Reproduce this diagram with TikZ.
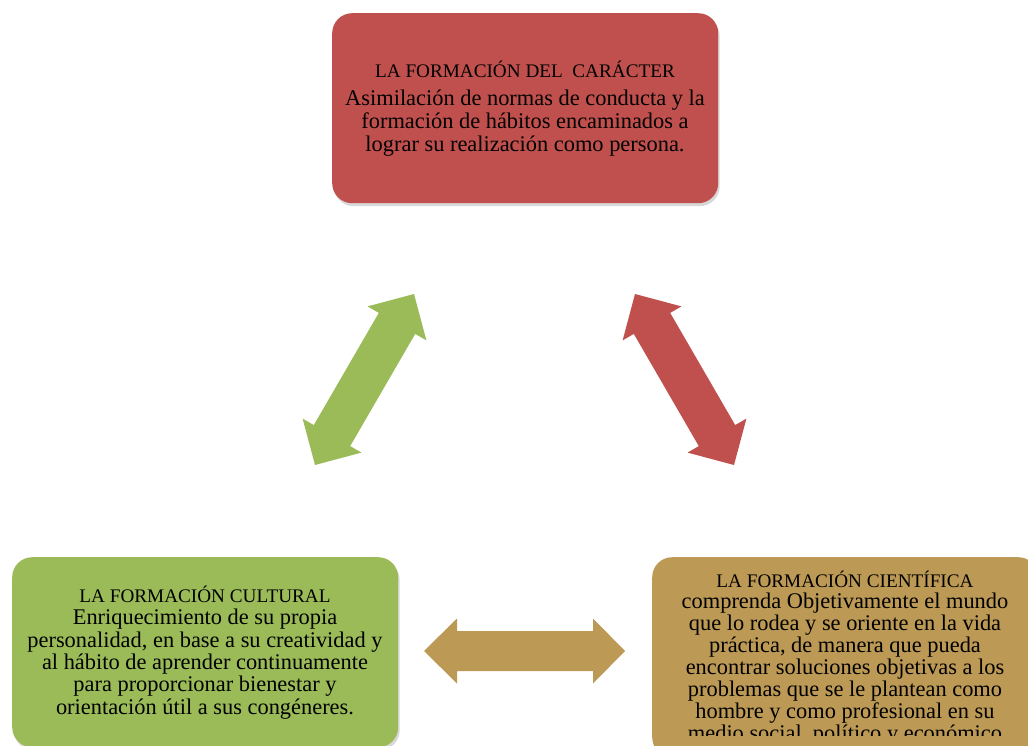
\documentclass[tikz,border=0pt]{standalone}
\usepackage{fontspec}
\setmainfont{Liberation Serif}
\usetikzlibrary{shadows}
\definecolor{cred}{HTML}{C0504D}
\definecolor{cgreen}{HTML}{9BBB59}
\definecolor{cgold}{HTML}{BC9954}
\newcommand{\boxtitle}[1]{{\fontsize{19.2}{22}\selectfont #1}}
\begin{document}
\begin{tikzpicture}[x=1pt,y=-1pt,
  box/.style={rounded corners=20pt, draw=none, minimum width=386pt, minimum height=190pt, inner sep=0pt, anchor=north west,
    drop shadow={opacity=0.3, shadow xshift=1.5pt, shadow yshift=-3pt}},
  txt/.style={align=center, inner sep=0pt, text=black, anchor=base}]
\clip (0,0) rectangle (1028,746);
\fill[white] (0,0) rectangle (1028,746);

% boxes
\node[box, fill=cred] (car) at (332,13) {};
\node[box, fill=cgreen] (cul) at (12,557) {};
\node[box, fill=cgold, minimum height=200pt] (cie) at (652,557) {};

% texts (anchor base = baseline of last line)
\node[txt, font=\fontsize{22.4}{23}\selectfont] (tcar) at (525,152)
  {\boxtitle{LA FORMACIÓN DEL\ \ CARÁCTER}\\[5.7pt]
   Asimilación de normas de conducta y la\\
   formación de hábitos encaminados a\\
   lograr su realización como persona.};
\node[txt, font=\fontsize{22.4}{22.3}\selectfont] (tcul) at (205,714)
  {\boxtitle{LA FORMACIÓN CULTURAL}\\
   Enriquecimiento de su propia\\
   personalidad, en base a su creatividad y\\
   al hábito de aprender continuamente\\
   para proporcionar bienestar y\\
   orientación útil a sus congéneres.};
\begin{scope}
\clip (652,557) rectangle (1038,735.5);
\node[txt, font=\fontsize{22.4}{21.85}\selectfont] (tcie) at (845,740)
  {\boxtitle{LA FORMACIÓN CIENTÍFICA}\\
   comprenda Objetivamente el mundo\\
   que lo rodea y se oriente en la vida\\
   práctica, de manera que pueda\\
   encontrar soluciones objetivas a los\\
   problemas que se le plantean como\\
   hombre y como profesional en su\\
   medio social, político y económico};
\end{scope}

% block arrows
\coordinate (gA) at (315,465);
\coordinate (gB) at (414,294);
\fill[cgreen] (gB) -- (426.4,340.4) -- (415.2,333.9) -- (350.2,446.1) -- (361.4,452.6)
  -- (gA) -- (302.6,418.6) -- (313.8,425.1) -- (378.8,312.9) -- (367.6,306.4) -- cycle;

\coordinate (rA) at (734,465);
\coordinate (rB) at (635,294);
\fill[cred] (rB) -- (622.6,340.4) -- (633.8,333.9) -- (698.8,446.1) -- (687.6,452.6)
  -- (rA) -- (746.4,418.6) -- (735.2,425.1) -- (670.2,312.9) -- (681.4,306.4) -- cycle;

\coordinate (yA) at (424,651);
\coordinate (yB) at (625,651);
\fill[cgold] (yA) -- (457,618.5) -- (457,631) -- (593,631) -- (593,618.5) -- (yB)
  -- (593,683.5) -- (593,671) -- (457,671) -- (457,683.5) -- cycle;
\end{tikzpicture}
\end{document}
